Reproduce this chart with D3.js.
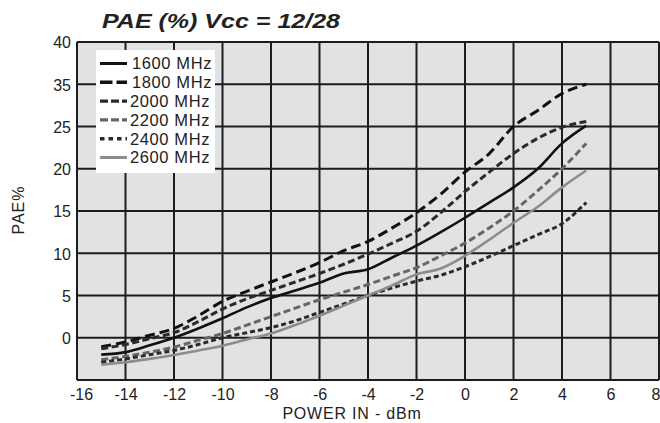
<!DOCTYPE html>
<html>
<head>
<meta charset="utf-8">
<script src="https://cdn.jsdelivr.net/npm/d3@7"></script>
<style>
  body { margin: 0; background: #fff; }
  svg text { font-family: "Liberation Sans", Arial, sans-serif; fill: #222; }
</style>
</head>
<body>
<div id="chart"></div>
<script>
// Chart data
const powerIn = [-15, -14, -13, -12, -11, -10, -9, -8, -7, -6, -5, -4, -3, -2, -1, 0, 1, 2, 3, 4, 5];
const pae1600 = [-2.0, -1.7, -0.9, 0.0, 1.1, 2.3, 3.6, 4.7, 5.6, 6.5, 7.6, 8.1, 9.5, 10.9, 12.5, 14.2, 16.0, 17.8, 20.0, 23.0, 25.2];
const pae1800 = [-1.05, -0.5, 0.3, 1.1, 2.6, 4.3, 5.5, 6.6, 7.7, 8.9, 10.3, 11.4, 13.0, 14.8, 17.0, 19.6, 21.8, 25.0, 28.8, 32.8, 35.0];
const pae2000 = [-1.3, -0.8, -0.1, 0.6, 1.9, 3.4, 4.6, 5.6, 6.6, 7.6, 8.7, 9.9, 11.2, 12.6, 14.8, 17.3, 19.6, 21.8, 23.6, 24.9, 26.2];
const pae2200 = [-2.6, -2.2, -1.7, -1.1, -0.3, 0.5, 1.5, 2.5, 3.5, 4.5, 5.4, 6.3, 7.3, 8.3, 9.7, 11.2, 13.0, 15.0, 17.4, 20.0, 23.0];
const pae2400 = [-2.9, -2.5, -2.0, -1.5, -0.8, 0.0, 0.6, 1.2, 2.0, 3.0, 4.0, 5.0, 5.9, 6.7, 7.4, 8.4, 9.6, 10.9, 12.2, 13.5, 16.0];
const pae2600 = [-3.2, -2.9, -2.5, -2.05, -1.5, -0.95, -0.2, 0.5, 1.5, 2.6, 3.8, 5.0, 6.2, 7.5, 8.2, 9.7, 11.6, 13.6, 15.5, 17.8, 19.8];
const seriesNames = ["1600 MHz", "1800 MHz", "2000 MHz", "2200 MHz", "2400 MHz", "2600 MHz"];

// Axis ticks (the datasheet's y labels skip 30)
const xTicks = [-16, -14, -12, -10, -8, -6, -4, -2, 0, 2, 4, 6, 8];
const yGrid = [-5, 0, 5, 10, 15, 20, 25, 35, 40];
const yTickLabels = [0, 5, 10, 15, 20, 25, 35, 40];

const width = 660;
const height = 423;
const plot = { left: 77, right: 659, top: 42, bottom: 380 };

// line styles per series
const styles = [
  { color: "#111", dash: null, w: 2.6 },
  { color: "#111", dash: "10,5", w: 3 },
  { color: "#2a2a2a", dash: "7,3.5", w: 3 },
  { color: "#666", dash: "7,3.5", w: 3 },
  { color: "#2a2a2a", dash: "5,3", w: 3 },
  { color: "#8c8c8c", dash: null, w: 2.6 },
];
const legendDash = [null, "12.5,4", "8,3", "8,3", "4.5,4", null];

const series = [pae1600, pae1800, pae2000, pae2200, pae2400, pae2600].map((vals, i) => ({
  name: seriesNames[i],
  values: powerIn.map((p, j) => ({ x: p, y: vals[j] })),
  style: styles[i],
}));

const svg = d3
  .select("#chart")
  .append("svg")
  .attr("width", width)
  .attr("height", height);

const x = d3.scaleLinear().domain([-16, 8]).range([plot.left, plot.right]);
const rowH = (plot.bottom - plot.top) / (yGrid.length - 1);
const y = d3
  .scaleLinear()
  .domain(yGrid)
  .range(yGrid.map((d, i) => plot.bottom - i * rowH));

// Plot background
svg
  .append("rect")
  .attr("x", plot.left)
  .attr("y", plot.top)
  .attr("width", plot.right - plot.left)
  .attr("height", plot.bottom - plot.top)
  .attr("fill", "#e1e2e4");

// Grid
const grid = svg.append("g").attr("stroke", "#1c1c1c").attr("stroke-width", 2);
grid
  .selectAll("line.v")
  .data(xTicks)
  .enter()
  .append("line")
  .attr("x1", (d) => x(d))
  .attr("x2", (d) => x(d))
  .attr("y1", plot.top)
  .attr("y2", plot.bottom);
grid
  .selectAll("line.h")
  .data(yGrid)
  .enter()
  .append("line")
  .attr("x1", plot.left)
  .attr("x2", plot.right)
  .attr("y1", (d) => y(d))
  .attr("y2", (d) => y(d));

// Axes (labels only, grid already drawn)
const xAxis = svg
  .append("g")
  .attr("transform", `translate(0,${plot.bottom})`)
  .call(d3.axisBottom(x).tickValues(xTicks).tickSize(0).tickPadding(9).tickFormat((d) => String(d).replace("−", "-")));
const yAxis = svg
  .append("g")
  .attr("transform", `translate(${plot.left},0)`)
  .call(d3.axisLeft(y).tickValues(yTickLabels).tickSize(0).tickPadding(6));
[xAxis, yAxis].forEach((g) => {
  g.select(".domain").remove();
  g.selectAll("text").attr("font-size", 16).attr("fill", "#222").attr("font-family", "Liberation Sans, Arial, sans-serif");
});
yAxis.selectAll("text").attr("dy", "0.36em");
// keep the end labels inside the picture, as in the original
xAxis.selectAll(".tick text").filter((d) => d === xTicks[0]).attr("dx", 4);
xAxis.selectAll(".tick text").filter((d) => d === xTicks[xTicks.length - 1]).attr("text-anchor", "end").attr("dx", 1);

// Curves
const line = d3
  .line()
  .x((d) => x(d.x))
  .y((d) => y(d.y))
  .curve(d3.curveMonotoneX);

svg
  .append("g")
  .selectAll("path")
  .data(series)
  .enter()
  .append("path")
  .attr("d", (d) => line(d.values))
  .attr("fill", "none")
  .attr("stroke", (d) => d.style.color)
  .attr("stroke-width", (d) => d.style.w)
  .attr("stroke-dasharray", (d) => d.style.dash);

// Legend
const legend = svg.append("g").attr("transform", "translate(96,50)");
legend.append("rect").attr("width", 119).attr("height", 123).attr("fill", "#fff");
const rows = legend
  .selectAll("g.row")
  .data(series)
  .enter()
  .append("g")
  .attr("transform", (d, i) => `translate(0,${13.5 + i * 18.8})`);
rows
  .append("line")
  .attr("x1", 4)
  .attr("x2", 31)
  .attr("stroke", (d) => d.style.color)
  .attr("stroke-width", (d) => d.style.w + 0.4)
  .attr("stroke-dasharray", (d, i) => legendDash[i]);
rows
  .append("text")
  .attr("x", (d, i) => (i === 0 || i === 1 ? 36 : 34))
  .attr("dy", "0.36em")
  .attr("font-size", 16.5)
  .attr("letter-spacing", 0.6)
  .text((d) => d.name);

// Titles
svg
  .append("text")
  .attr("x", 102)
  .attr("y", 28)
  .attr("font-size", 21)
  .attr("font-weight", "bold")
  .attr("font-style", "italic")
  .attr("fill", "#111")
  .attr("textLength", 238)
  .attr("lengthAdjust", "spacingAndGlyphs")
  .text("PAE (%) Vcc = 12/28");

svg
  .append("text")
  .attr("x", 352)
  .attr("y", 419)
  .attr("text-anchor", "middle")
  .attr("font-size", 16)
  .attr("letter-spacing", 0.8)
  .text("POWER IN - dBm");

svg
  .append("text")
  .attr("transform", "translate(24,210) rotate(-90)")
  .attr("text-anchor", "middle")
  .attr("font-size", 16)
  .attr("letter-spacing", 1)
  .text("PAE%");
</script>
</body>
</html>
